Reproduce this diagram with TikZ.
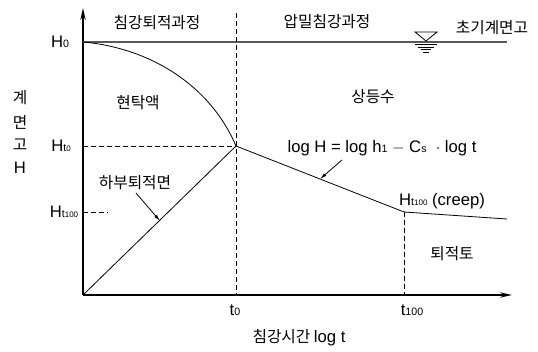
\documentclass[tikz,border=0pt]{standalone}
\usepackage{fontspec}
\setmainfont{Liberation Sans}
\newfontfamily\krfont{Noto Sans CJK KR}
\usetikzlibrary{positioning, arrows.meta}
\newcommand{\smallsub}[1]{{\fontsize{8}{8}\selectfont #1}}
\newcommand{\tinysub}[1]{{\fontsize{6}{6}\selectfont #1}}

\begin{document}
\begin{tikzpicture}[x=0.75pt, y=-0.75pt, font=\fontsize{12.5}{14}\selectfont,
    axisline/.style={line width=1.3pt, -{Stealth[length=9pt, width=4pt]}},
    guide/.style={line width=0.6pt, dash pattern=on 3.5pt off 2.5pt},
    thinline/.style={line width=0.6pt},
    lead/.style={line width=0.6pt, -{Latex[length=5pt, width=2.5pt]}},
    kr/.style={font=\fontsize{11.8}{14}\selectfont\krfont}]
  \useasboundingbox (0,0) rectangle (538,352);

  % key points
  \coordinate (o) at (83,295);
  \coordinate (ytop) at (83,8);
  \coordinate (xend) at (512,295);
  \coordinate (h0) at (83,42);
  \coordinate (h0end) at (507,42);
  \coordinate (ht0) at (83,146);
  \coordinate (ht100) at (83,212);
  \coordinate (ht100end) at (108,212);
  \coordinate (p0) at (236,146);
  \coordinate (p100) at (404,212);
  \coordinate (pend) at (507,219);
  \coordinate (t0top) at (236,13);
  \coordinate (t0base) at (236,295);
  \coordinate (t100base) at (404,295);

  % axes
  \draw[axisline] (o) -- (ytop);
  \draw[axisline] (o) -- (xend);

  % initial level
  \draw[line width=1pt, black!65] (h0) -- (h0end);
  \draw[thinline] (415,32) -- (437,32) -- (426,41) -- cycle;
  \draw[thinline] (415,44) -- (437,44);
  \draw[thinline] (418,47) -- (434,47);
  \draw[thinline] (421,49.5) -- (431,49.5);
  \draw[thinline] (423,52) -- (429,52);

  % guides
  \draw[guide] (t0top) -- (t0base);
  \draw[guide] (ht0) -- (p0);
  \draw[guide] (p100) -- (t100base);
  \draw[guide] (ht100) -- (ht100end);

  % curves
  \draw[thinline] (h0) .. controls (150,48) and (210,85) .. (p0);
  \draw[thinline] (o) -- (p0);
  \draw[thinline] (p0) -- (p100) -- (pend);

  % axis labels
  \node (lh0) at (60,42) {H\smallsub{0}};
  \node (lht0) at (61,146) {H\smallsub{t\tinysub{0}}};
  \node (lht100) at (64,212) {H\smallsub{t\tinysub{100}}};
  \node (lt0) at (235,310) {t\smallsub{0}};
  \node (lt100) at (412,310) {t\smallsub{100}};
  \node[kr] (xlab) at (299,338) {침강시간 \fontsize{12.5}{14}\selectfont\rmfamily log t};
  \node[kr] (ya) at (20,98) {계};
  \node[kr] (yb) at (20,122) {면};
  \node[kr] (yc) at (20,145) {고};
  \node (yd) at (20,168) {H};

  % region labels
  \node[kr] (sed) at (157,23) {침강퇴적과정};
  \node[kr] (cons) at (327,22) {압밀침강과정};
  \node[kr] (init) at (492,28) {초기계면고};
  \node[kr] (susp) at (138,103) {현탁액};
  \node[kr] (clear) at (373,97) {상등수};
  \node[kr] (bed) at (135,183) {하부퇴적면};
  \node[kr] (soil) at (452,254) {퇴적토};
  \node (eq) at (382,148) {log H = log h\smallsub{1} $-$ C\smallsub{s}\ \ $\cdot$ log t};
  \node (creep) at (442,201) {H\smallsub{t\tinysub{100}} (creep)};

  % leaders
  \coordinate (eqfoot) at (342,160);
  \coordinate (eqtip) at (320,179);
  \coordinate (bedfoot) at (136,193);
  \coordinate (bedtip) at (160,221);
  \draw[lead] (eqfoot) -- (eqtip);
  \draw[lead] (bedfoot) -- (bedtip);
\end{tikzpicture}
\end{document}
